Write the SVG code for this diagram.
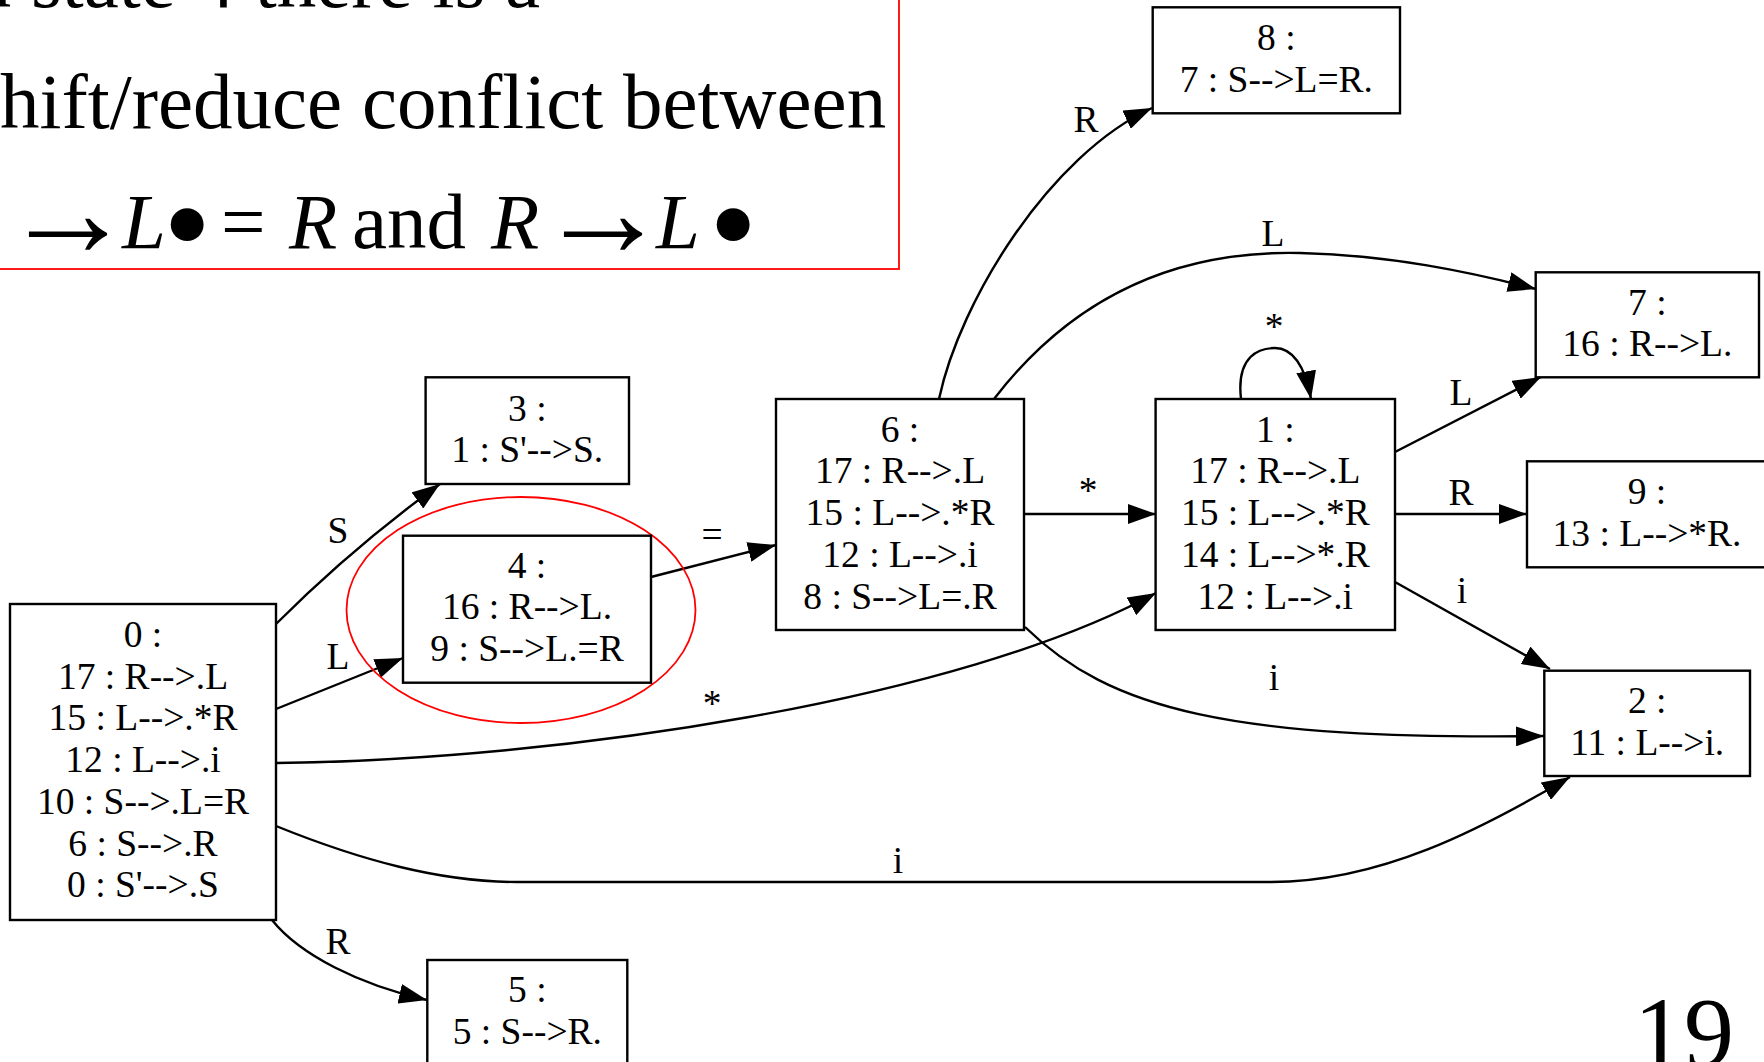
<svg xmlns="http://www.w3.org/2000/svg" width="1764" height="1062" viewBox="0 0 1764 1062">
<style>
.node rect{fill:#fff;stroke:#000;stroke-width:2.4}
.node text,.lbl{font-family:"Liberation Serif","Times New Roman",serif;font-size:37.5px;text-anchor:middle;fill:#000}
.edge{fill:none;stroke:#000;stroke-width:2.4;marker-end:url(#ah)}
.slide{font-family:"Liberation Serif","Times New Roman",serif;font-size:79px;fill:#000}
.arr{font-size:132px}
.bul{font-size:138px}
.it{font-style:italic}
.red{fill:none;stroke:#ff0000;stroke-width:1.8}
</style>
<defs>
<marker id="ah" markerUnits="userSpaceOnUse" markerWidth="28" markerHeight="20" refX="28" refY="10" orient="auto"><path d="M0,0 L28,10 L0,20 z" fill="#000"/></marker>
</defs>
<rect width="1764" height="1062" fill="#fff"/>
<g id="note">
<rect class="red" x="-5" y="-5" width="904" height="274"/>
<text class="slide" x="540" y="7" text-anchor="end">n state 4 there is a</text>
<text class="slide" x="0" y="128">hift/reduce conflict between</text>
<text class="slide"><tspan class="arr" x="2" y="256">→</tspan><tspan class="it" x="122" y="248">L</tspan><tspan class="bul" x="163" y="270">•</tspan><tspan x="221" y="248">=</tspan><tspan class="it" x="289" y="248">R</tspan><tspan x="352" y="248">and</tspan><tspan class="it" x="491" y="248">R</tspan><tspan class="arr" x="537" y="256">→</tspan><tspan class="it" x="656" y="248">L</tspan><tspan class="bul" x="709" y="270">•</tspan></text>
</g>
<g id="connectors">
<path class="edge" d="M276,624 Q352,548 440,484"/>
<path class="edge" d="M276,709 L403,658"/>
<path class="edge" d="M272,920 C300,955 360,985 427,1000"/>
<path class="edge" d="M276,763 C560,760 960,700 1156,593"/>
<path class="edge" d="M276,826 C360,860 440,882 517,882 L1271,882 C1380,882 1480,830 1570,777"/>
<path class="edge" d="M651,577 L776,545"/>
<path class="edge" d="M939,399 C960,300 1050,155 1152,108"/>
<path class="edge" d="M994,399 C1070,300 1170,250 1300,253 C1390,255 1470,272 1536,289"/>
<path class="edge" d="M1024,514 L1156,514"/>
<path class="edge" d="M1025,627 C1110,710 1230,740 1544,736"/>
<path class="edge" d="M1241,399 C1236,355 1260,348 1275,348 C1292,348 1305,365 1311,399"/>
<path class="edge" d="M1395,452 L1541,377"/>
<path class="edge" d="M1395,514 L1527,514"/>
<path class="edge" d="M1395,582 L1550,669"/>
<text class="lbl" x="338" y="543">S</text>
<text class="lbl" x="338" y="669">L</text>
<text class="lbl" x="338" y="954">R</text>
<text class="lbl" x="712" y="716">*</text>
<text class="lbl" x="898" y="873">i</text>
<text class="lbl" x="712" y="547">=</text>
<text class="lbl" x="1086" y="132">R</text>
<text class="lbl" x="1273" y="246">L</text>
<text class="lbl" x="1274" y="339">*</text>
<text class="lbl" x="1088" y="503">*</text>
<text class="lbl" x="1461" y="405">L</text>
<text class="lbl" x="1461" y="505">R</text>
<text class="lbl" x="1462" y="603">i</text>
<text class="lbl" x="1274" y="690">i</text>
</g>
<ellipse class="red" cx="521" cy="610" rx="174.5" ry="113"/>
<g id="n0" class="node"><rect x="10" y="604" width="266" height="316"/>
<text x="143" y="647">0 :</text><text x="143" y="688.7">17 : R--&gt;.L</text><text x="143" y="730.4">15 : L--&gt;.*R</text><text x="143" y="772.1">12 : L--&gt;.i</text><text x="143" y="813.8">10 : S--&gt;.L=R</text><text x="143" y="855.5">6 : S--&gt;.R</text><text x="143" y="897.2">0 : S'--&gt;.S</text></g>
<g id="n3" class="node"><rect x="425.6" y="377.3" width="203.4" height="106.7"/>
<text x="527.3" y="420.7">3 :</text><text x="527.3" y="462.4">1 : S'--&gt;S.</text></g>
<g id="n4" class="node"><rect x="403" y="535.7" width="248" height="147"/>
<text x="527" y="577.7">4 :</text><text x="527" y="619.4">16 : R--&gt;L.</text><text x="527" y="661.1">9 : S--&gt;L.=R</text></g>
<g id="n5" class="node"><rect x="427.3" y="960" width="200" height="106"/>
<text x="527.3" y="1002">5 :</text><text x="527.3" y="1043.7">5 : S--&gt;R.</text></g>
<g id="n6" class="node"><rect x="776" y="399" width="248" height="231"/>
<text x="900" y="441.7">6 :</text><text x="900" y="483.4">17 : R--&gt;.L</text><text x="900" y="525.1">15 : L--&gt;.*R</text><text x="900" y="566.8">12 : L--&gt;.i</text><text x="900" y="608.5">8 : S--&gt;L=.R</text></g>
<g id="n1" class="node"><rect x="1155.6" y="399" width="239.4" height="231"/>
<text x="1275.3" y="441.7">1 :</text><text x="1275.3" y="483.4">17 : R--&gt;.L</text><text x="1275.3" y="525.1">15 : L--&gt;.*R</text><text x="1275.3" y="566.8">14 : L--&gt;*.R</text><text x="1275.3" y="608.5">12 : L--&gt;.i</text></g>
<g id="n8" class="node"><rect x="1152.7" y="7.3" width="247.3" height="106"/>
<text x="1276.3" y="50">8 :</text><text x="1276.3" y="91.7">7 : S--&gt;L=R.</text></g>
<g id="n7" class="node"><rect x="1535.7" y="272.3" width="223.3" height="105"/>
<text x="1647.3" y="314.5">7 :</text><text x="1647.3" y="356.2">16 : R--&gt;L.</text></g>
<g id="n9" class="node"><rect x="1527" y="461.3" width="240" height="106"/>
<text x="1647" y="504">9 :</text><text x="1647" y="545.7">13 : L--&gt;*R.</text></g>
<g id="n2" class="node"><rect x="1544.3" y="670.7" width="205.7" height="105.3"/>
<text x="1647.2" y="712.8">2 :</text><text x="1647.2" y="754.5">11 : L--&gt;i.</text></g>
<text class="slide" x="1634" y="1066" style="font-size:100px">19</text>
</svg>
